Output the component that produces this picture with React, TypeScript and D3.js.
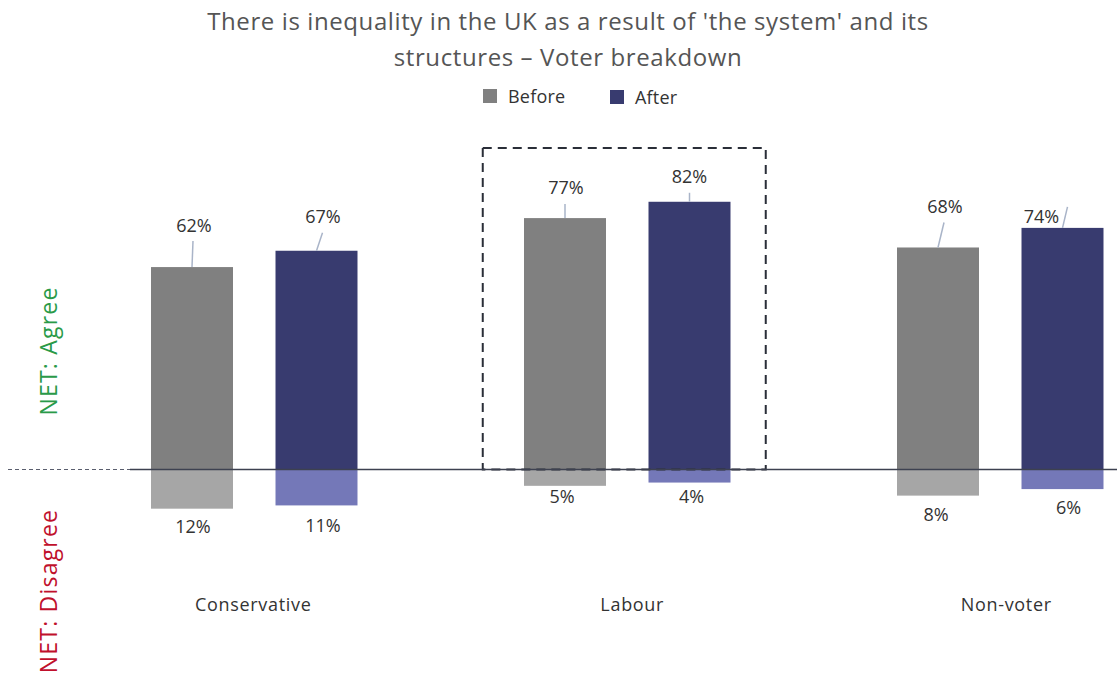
import React from "react";
import * as d3 from "d3";

// Survey results by voter group
const categories = ["Conservative", "Labour", "Non-voter"];
const seriesNames = ["Before", "After"];
const agreeBefore = [62, 77, 68];
const agreeAfter = [67, 82, 74];
const disagreeBefore = [12, 5, 8];
const disagreeAfter = [11, 4, 6];
const highlighted = "Labour";

const W = 1117;
const H = 675;
const FONT = "'Open Sans', 'DejaVu Sans', sans-serif";

const colors = {
  agree: ["#808080", "#383b6f"],
  disagree: ["#a6a6a6", "#7478b8"],
};

// Hand-placed label nudges (text offset tx/ty, connector lx/ly) per [category][series]
const agreeLabelLayout = [
  [{ tx: 2, ty: 35, lx: 1, ly: 26 }, { tx: 6.5, ty: 28, lx: 6, ly: 18 }],
  [{ tx: 1, ty: 24, lx: 0, ly: 14 }, { tx: 0, ty: 19, lx: 0, ly: 9 }],
  [{ tx: 7, ty: 34, lx: 6, ly: 25 }, { tx: -21, ty: 5, lx: 5, ly: 21 }],
];
const disagreeLabelLayout = [
  [{ tx: 1, ty: 24 }, { tx: 6.5, ty: 27 }],
  [{ tx: -3, ty: 17 }, { tx: 2, ty: 20 }],
  [{ tx: -2, ty: 25 }, { tx: 6, ty: 25 }],
];
const categoryLabelDx = [-1, 5, 6];

export default function App() {
  const x = d3.scaleBand<string>().domain(categories).range([67.75, 1186.75]).padding(0);
  const inner = d3
    .scaleBand<string>()
    .domain(seriesNames)
    .range([62, 311])
    .paddingInner(0.3414)
    .paddingOuter(0.1707);
  const y = d3.scaleLinear().domain([-60, 100]).range([665.4, 143]);
  const y0 = y(0);

  const agree = [agreeBefore, agreeAfter];
  const disagree = [disagreeBefore, disagreeAfter];

  const hx = (x(highlighted) ?? 0) + x.bandwidth() / 2;

  return (
    <svg
      width={W}
      height={H}
      style={{ position: "absolute", left: 0, top: 0, background: "#fff" }}
      fontFamily={FONT}
    >
      {/* Title */}
      <g fontSize={24} fill="#555" letterSpacing={0.6} textAnchor="middle">
        <text x={568} y={30}>
          There is inequality in the UK as a result of 'the system' and its
        </text>
        <text x={568} y={66}>
          structures – Voter breakdown
        </text>
      </g>

      {/* Legend */}
      <g fontSize={18} fill="#333" letterSpacing={0.2}>
        <rect x={483} y={89} width={14} height={14} fill={colors.agree[0]} />
        <text x={508} y={103}>Before</text>
        <rect x={610} y={90} width={14} height={14} fill={colors.agree[1]} />
        <text x={635} y={104}>After</text>
      </g>

      {/* Axis side labels */}
      <text
        transform={`translate(57,351) rotate(-90)`}
        textAnchor="middle"
        fontSize={23}
        letterSpacing={1.2}
        fill="#2a9a48"
      >
        NET: Agree
      </text>
      <text
        transform={`translate(57,591) rotate(-90)`}
        textAnchor="middle"
        fontSize={23}
        letterSpacing={1.2}
        fill="#c0102c"
      >
        NET: Disagree
      </text>

      {/* Bars */}
      {categories.map((c, ci) => {
        const gx = x(c) ?? 0;
        return (
          <g key={c}>
            {seriesNames.map((s, si) => {
              const bx = gx + (inner(s) ?? 0);
              const bw = inner.bandwidth();
              const va = agree[si][ci];
              const vd = disagree[si][ci];
              return (
                <g key={s}>
                  <rect
                    x={bx}
                    y={y(va)}
                    width={bw}
                    height={y0 - y(va)}
                    fill={colors.agree[si]}
                  />
                  <rect
                    x={bx}
                    y={y0}
                    width={bw}
                    height={y(-vd) - y0}
                    fill={colors.disagree[si]}
                  />
                </g>
              );
            })}
          </g>
        );
      })}

      {/* Highlight box */}
      <rect
        x={hx - 144.5}
        y={y(98.5)}
        width={283}
        height={y0 - y(98.5)}
        fill="none"
        stroke="#2a2e38"
        strokeWidth={2}
        strokeDasharray="9,6"
      />

      {/* Zero line */}
      <line x1={8} x2={130} y1={y0} y2={y0} stroke="#5a5e6e" strokeWidth={1} strokeDasharray="4,3" />
      <line x1={130} x2={W} y1={y0} y2={y0} stroke="#3d4150" strokeWidth={1.5} />

      {/* Value labels */}
      {categories.map((c, ci) => {
        const gx = x(c) ?? 0;
        return (
          <g key={c + "-labels"} fontSize={18} fill="#333">
            {seriesNames.map((s, si) => {
              const cx = gx + (inner(s) ?? 0) + inner.bandwidth() / 2;
              const va = agree[si][ci];
              const vd = disagree[si][ci];
              const la = agreeLabelLayout[ci][si];
              const ld = disagreeLabelLayout[ci][si];
              const top = y(va);
              const bottom = y(-vd);
              return (
                <g key={s}>
                  <line
                    x1={cx}
                    y1={top}
                    x2={cx + la.lx}
                    y2={top - la.ly}
                    stroke="#a9b4c8"
                    strokeWidth={1.5}
                  />
                  <text x={cx + la.tx} y={top - la.ty} textAnchor="middle">
                    {va}%
                  </text>
                  <text x={cx + ld.tx} y={bottom + ld.ty} textAnchor="middle">
                    {vd}%
                  </text>
                </g>
              );
            })}
          </g>
        );
      })}

      {/* Category labels */}
      {categories.map((c, ci) => (
        <text
          key={c + "-cat"}
          x={(x(c) ?? 0) + x.bandwidth() / 2 + categoryLabelDx[ci]}
          y={611}
          textAnchor="middle"
          fontSize={18}
          letterSpacing={0.7}
          fill="#333"
        >
          {c}
        </text>
      ))}
    </svg>
  );
}
